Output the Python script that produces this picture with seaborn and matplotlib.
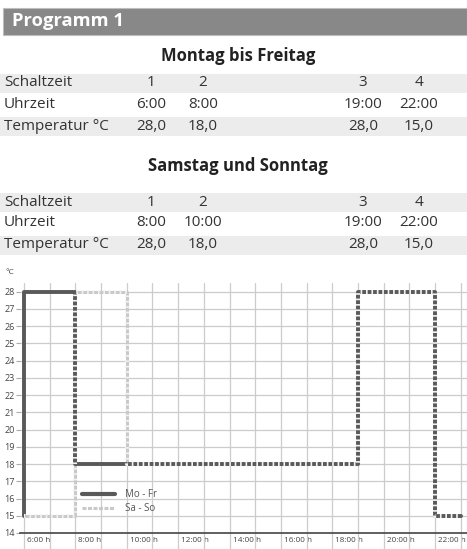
import matplotlib
matplotlib.use('Agg')
import matplotlib.pyplot as plt
import matplotlib.transforms as mtransforms
from matplotlib.lines import Line2D
from matplotlib.patches import Rectangle
import numpy as np
import pandas as pd
import seaborn as sns

# schedule data
row_labels = ['Schaltzeit', 'Uhrzeit', 'Temperatur °C']
switch_no = ['1', '2', '3', '4']
wk_times = [6, 8, 19, 22]
we_times = [8, 10, 19, 22]
temps = [28.0, 18.0, 28.0, 15.0]
base_temp = 15.0
day_start = 6
day_end = 23

y_ticks = list(range(14, 29))
x_label_hours = list(range(6, 23, 2))

sns.set_theme(style='white')
plt.rcParams['font.family'] = ['Open Sans', 'DejaVu Sans']

fig = plt.figure(figsize=(4.67, 5.49), dpi=100)
W, H = 467, 549


def fx(px):
    return px / W


def fy(py):
    return 1 - py / H


# header bar
fig.patches.append(Rectangle((fx(3), fy(35)), fx(464), 27 / H, transform=fig.transFigure,
                             facecolor='#888888', edgecolor='#bdbdbd', lw=0.8))
fig.text(fx(12), fy(21.5), 'Programm 1', color='white', fontsize=13.2, fontweight='bold',
         va='center', ha='left')

col_x = [151, 203, 363, 419]


def fmt_time(h):
    return f'{h}:00'


def fmt_temp(t):
    return f'{t:.1f}'.replace('.', ',')


def draw_table(title, title_y, row_y, times):
    fig.text(fx(238), fy(title_y), title, fontsize=12, fontweight='bold', color='#222222',
             ha='center', va='center')
    for i in (0, 2):
        fig.patches.append(Rectangle((0, fy(row_y[i] + 9.5)), 1, 19 / H, transform=fig.transFigure,
                                     facecolor='#ececec', edgecolor='none'))
    values = [switch_no, [fmt_time(t) for t in times], [fmt_temp(t) for t in temps]]
    for ry, lab, vals in zip(row_y, row_labels, values):
        fig.text(fx(4), fy(ry), lab, fontsize=11, color='#333333', ha='left', va='center')
        for cx, v in zip(col_x, vals):
            fig.text(fx(cx), fy(ry), v, fontsize=11, color='#333333', ha='center', va='center')


draw_table('Montag bis Freitag', 56, [83, 105, 127], wk_times)
draw_table('Samstag und Sonntag', 166, [202, 223, 245], we_times)

# step series
wk_df = pd.DataFrame({'h': [day_start] + wk_times + [day_end],
                      'temp': [base_temp] + temps + [temps[-1]]})
we_df = pd.DataFrame({'h': [day_start] + we_times + [day_end],
                      'temp': [base_temp] + temps + [temps[-1]]})

ax = fig.add_axes([fx(20), 16 / H, fx(447), 250 / H])
ax.set_xlim(5.844, 23.24)
ax.set_ylim(14, 28.5)

light = '#c9c9c9'
dark = '#595959'
sns.lineplot(data=we_df, x='h', y='temp', ax=ax, drawstyle='steps-post', estimator=None,
             sort=False, color=light, lw=2.2, zorder=3)
sns.lineplot(data=wk_df, x='h', y='temp', ax=ax, drawstyle='steps-post', estimator=None,
             sort=False, color=dark, lw=2.8, zorder=4)
sns.lineplot(data=we_df, x='h', y='temp', ax=ax, drawstyle='steps-post', estimator=None,
             sort=False, color='#f2f2f2', lw=3.0, zorder=5, linestyle=(0, (0.4, 0.9)),
             dash_capstyle='butt')

# grid
ax.set_yticks(y_ticks)
ax.set_xticks(range(6, 24), minor=True)
ax.set_xticks(x_label_hours)
ax.set_xticklabels([f'{h}:00 h' for h in x_label_hours])
ax.grid(True, which='both', axis='x', color='#cccccc', lw=0.9, zorder=0)
ax.grid(True, which='major', axis='y', color='#cccccc', lw=0.9, zorder=0)
ax.set_axisbelow(True)
ax.tick_params(axis='y', labelsize=6.5, colors='#444444', length=3, width=0.8, pad=1,
               color='#aaaaaa', left=True)
ax.tick_params(axis='x', which='both', length=11.5, width=0.9, color='#cccccc', bottom=True,
               direction='out')
ax.tick_params(axis='x', which='major', labelsize=5.9, labelcolor='#444444', pad=-8.5)
offset = mtransforms.ScaledTranslation(3 / 100, 0, fig.dpi_scale_trans)
for lab in ax.get_xticklabels():
    lab.set_horizontalalignment('left')
    lab.set_transform(lab.get_transform() + offset)

for s in ('top', 'right', 'left'):
    ax.spines[s].set_visible(False)
ax.spines['bottom'].set_color('#444444')
ax.spines['bottom'].set_linewidth(1.2)
ax.set_xlabel('')
ax.set_ylabel('')
fig.text(fx(6), fy(273), '°C', fontsize=6, color='#444444', ha='left', va='center')

handles = [Line2D([], [], color=dark, lw=3.0),
           Line2D([], [], color=light, lw=2.2, linestyle=(0, (1.3, 0.5)))]
ax.legend(handles, ['Mo - Fr', 'Sa - So'], loc='lower left', bbox_to_anchor=(0.12, 0.04),
          frameon=False, fontsize=7, handlelength=3.4, labelspacing=0.3, handletextpad=1.0,
          labelcolor='#555555')

fig.savefig('out.png', dpi=100)
